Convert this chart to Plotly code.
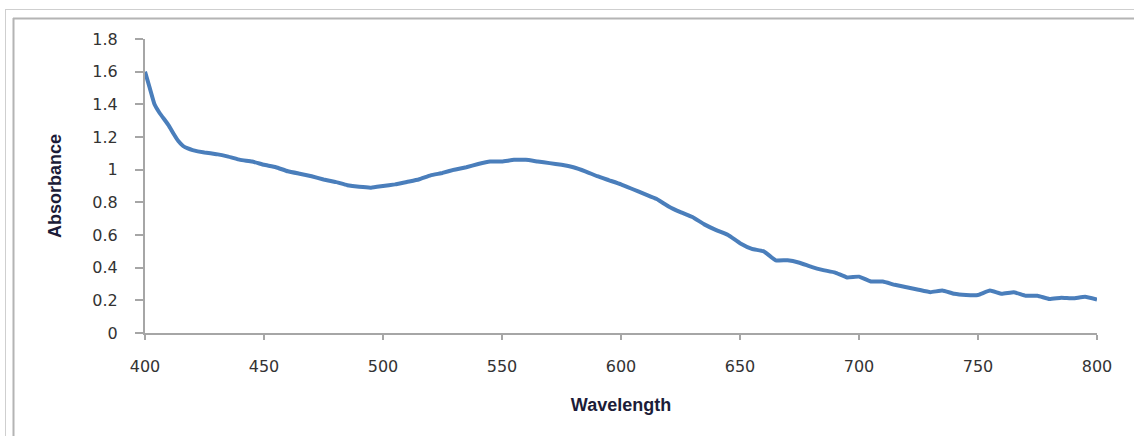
import plotly.graph_objects as go

wavelength = [400, 402, 404, 406, 408, 410, 412, 414, 416, 418, 420, 425, 430, 435, 440, 445,
              450, 455, 460, 465, 470, 475, 480, 485, 490, 495, 500, 505, 510, 515, 520, 525,
              530, 535, 540, 545, 550, 555, 560, 565, 570, 575, 580, 585, 590, 595, 600, 605,
              610, 615, 620, 625, 630, 635, 640, 645, 650, 655, 660, 665, 670, 675, 680, 685,
              690, 695, 700, 705, 710, 715, 720, 725, 730, 735, 740, 745, 750, 755, 760, 765,
              770, 775, 780, 785, 790, 795, 800]
absorbance = [1.60, 1.50, 1.40, 1.35, 1.31, 1.27, 1.22, 1.175, 1.145, 1.13, 1.12, 1.105, 1.095,
              1.08, 1.06, 1.05, 1.03, 1.015, 0.99, 0.975, 0.96, 0.94, 0.925, 0.905, 0.895, 0.89,
              0.90, 0.91, 0.925, 0.94, 0.965, 0.98, 1.00, 1.015, 1.035, 1.05, 1.05, 1.06, 1.06,
              1.05, 1.04, 1.03, 1.015, 0.99, 0.96, 0.935, 0.91, 0.88, 0.85, 0.82, 0.775, 0.74,
              0.71, 0.665, 0.63, 0.60, 0.55, 0.515, 0.50, 0.445, 0.445, 0.43, 0.405, 0.385, 0.37,
              0.34, 0.345, 0.315, 0.315, 0.295, 0.28, 0.265, 0.25, 0.26, 0.24, 0.233, 0.233, 0.26,
              0.24, 0.25, 0.228, 0.228, 0.208, 0.216, 0.212, 0.222, 0.205]

x_ticks = [400, 450, 500, 550, 600, 650, 700, 750, 800]
y_ticks = [0, 0.2, 0.4, 0.6, 0.8, 1, 1.2, 1.4, 1.6, 1.8]
y_tick_labels = ["0", "0.2", "0.4", "0.6", "0.8", "1", "1.2", "1.4", "1.6", "1.8"]

W, H = 1134, 436
L, R, T, B = 145, 37, 39, 103

fig = go.Figure()
fig.add_trace(go.Scatter(x=wavelength, y=absorbance, mode="lines",
                         line=dict(color="#4a7ebb", width=4, shape="spline", smoothing=0.3),
                         showlegend=False, hoverinfo="x+y"))

def px_to_paper_x(px):
    return (px - L) / (W - L - R)

def px_to_paper_y(py):
    return (H - B - py) / (H - T - B)

shapes = [
    dict(type="line", xref="paper", yref="paper", x0=px_to_paper_x(5), x1=px_to_paper_x(W + 5),
         y0=px_to_paper_y(9.5), y1=px_to_paper_y(9.5), line=dict(color="#cfcfcf", width=1)),
    dict(type="line", xref="paper", yref="paper", x0=px_to_paper_x(5.5), x1=px_to_paper_x(5.5),
         y0=px_to_paper_y(9), y1=px_to_paper_y(H + 5), line=dict(color="#cfcfcf", width=1)),
    dict(type="line", xref="paper", yref="paper", x0=px_to_paper_x(13), x1=px_to_paper_x(W + 5),
         y0=px_to_paper_y(18.5), y1=px_to_paper_y(18.5), line=dict(color="#b4b4b4", width=2)),
    dict(type="line", xref="paper", yref="paper", x0=px_to_paper_x(13.5), x1=px_to_paper_x(13.5),
         y0=px_to_paper_y(18), y1=px_to_paper_y(H + 5), line=dict(color="#b4b4b4", width=2)),
]

fig.update_layout(
    width=W, height=H,
    margin=dict(l=L, r=R, t=T, b=B),
    paper_bgcolor="white", plot_bgcolor="white",
    shapes=shapes,
    xaxis=dict(range=[400, 800], tickvals=x_ticks, showgrid=False, zeroline=False,
               showline=True, linecolor="#a6a6a6", linewidth=2,
               ticks="outside", ticklen=5, tickwidth=1.5, tickcolor="#a6a6a6",
               ticklabelstandoff=13,
               tickfont=dict(family="DejaVu Sans", size=16, color="#333333"),
               title=dict(text="Wavelength", standoff=23,
                          font=dict(family="Liberation Sans", size=18, color="#1c1c38", weight="bold"))),
    yaxis=dict(range=[0, 1.8], tickvals=y_ticks, ticktext=y_tick_labels, showgrid=False,
               zeroline=False, showline=True, linecolor="#a6a6a6", linewidth=2,
               ticks="outside", ticklen=8, tickwidth=1.5, tickcolor="#a6a6a6",
               ticklabelstandoff=14,
               tickfont=dict(family="DejaVu Sans", size=16, color="#333333"),
               title=dict(text="Absorbance", standoff=26,
                          font=dict(family="Liberation Sans", size=18, color="#1c1c38", weight="bold"))),
)

fig.write_html("out.html", config={"displayModeBar": False},
               post_script="document.body.style.margin='0';document.body.style.overflow='hidden';")
